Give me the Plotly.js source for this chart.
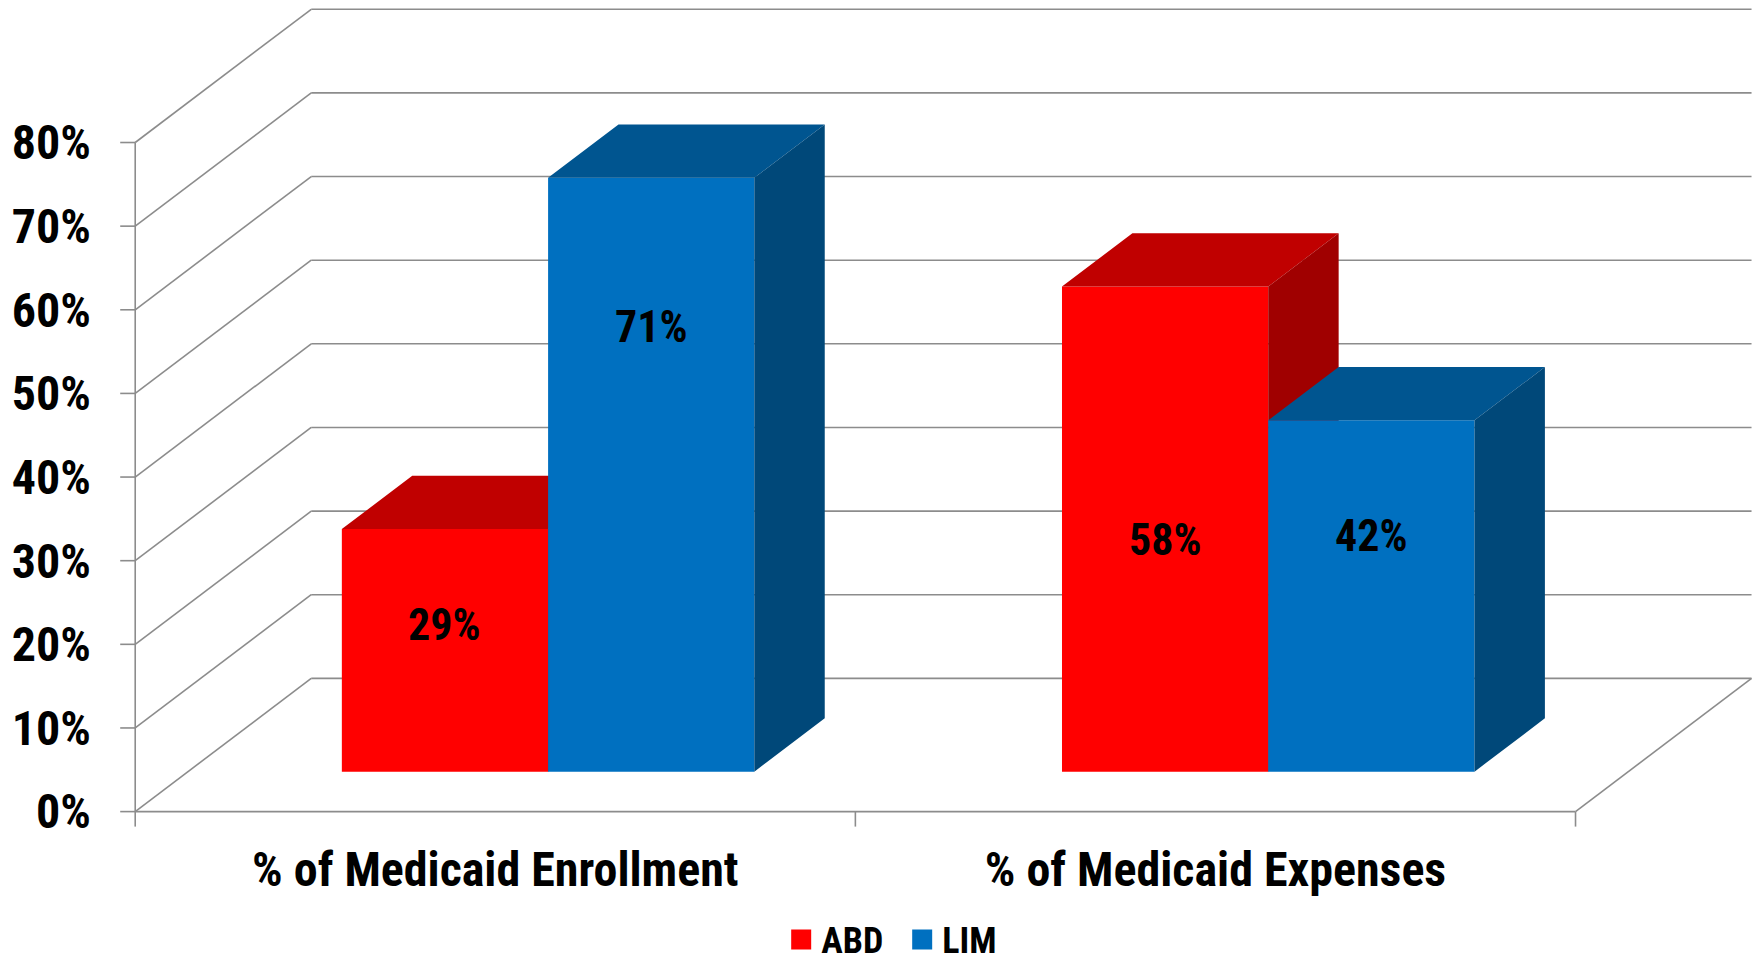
<!DOCTYPE html>
<html>
<head>
<meta charset="utf-8">
<script src="https://cdn.plot.ly/plotly-3.0.1.min.js"></script>
<style>
  html, body { margin: 0; padding: 0; background: #ffffff; overflow: hidden; }
  #chart { width: 1758px; height: 962px; }
</style>
</head>
<body>
<div id="chart"></div>
<script>
// ---------------- data ----------------
const categories = ['% of Medicaid Enrollment', '% of Medicaid Expenses'];
const seriesNames = ['ABD', 'LIM'];
const abdValues = [29, 58];
const limValues = [71, 42];
const yTickVals = [0, 10, 20, 30, 40, 50, 60, 70, 80];
const yTickText = ['0%', '10%', '20%', '30%', '40%', '50%', '60%', '70%', '80%'];

// ---------------- style / 3-D geometry (not data) ----------------
const FONT = 'Liberation Sans Narrow, Arial Narrow, Roboto Condensed, sans-serif';
const colors = {
  ABD: { front: '#FF0000', top: '#C00000', side: '#A00000' },
  LIM: { front: '#0070C0', top: '#005590', side: '#004879' }
};
const WALL_DX = 0.2444;   // depth of the floor, in category units
const WALL_DY = 15.93;    // depth of the floor, in % units
const BAR_D0 = 0.30;      // bar front depth (fraction of the floor depth)
const BAR_D1 = 0.70;      // bar back depth
const BAR_W = 0.2864;     // bar width, category units
const labelFrac = [[0.604, 0.478], [0.749, 0.672]]; // where the value labels sit inside each bar

const series = [abdValues, limValues];
const shiftX = BAR_D0 * WALL_DX;
const base = BAR_D0 * WALL_DY;
const ddx = (BAR_D1 - BAR_D0) * WALL_DX;
const ddy = (BAR_D1 - BAR_D0) * WALL_DY;

function barLeft(si, ci) { return ci + shiftX + (si === 0 ? -BAR_W : 0); }

const traces = [];
const annotations = [];

series.forEach(function (vals, si) {
  const name = seriesNames[si];
  const c = colors[name];
  const xa = si === 0 ? 'x' : 'x2';
  const ya = si === 0 ? 'y' : 'y2';
  // front faces: real bars
  traces.push({
    type: 'bar', name: name, legendgroup: name, showlegend: false,
    x: categories.map(function (_, ci) { return ci; }),
    y: vals, base: base,
    offset: (si === 0 ? -BAR_W : 0) + shiftX, width: BAR_W,
    marker: { color: c.front, line: { width: 0 } },
    xaxis: xa, yaxis: ya,
    hovertemplate: name + ': %{y}%<extra></extra>'
  });
  // top and side faces
  const tx = [], ty = [], sx = [], sy = [];
  vals.forEach(function (v, ci) {
    const l = barLeft(si, ci), r = l + BAR_W, t = base + v;
    tx.push(l, l + ddx, r + ddx, r, l, null);
    ty.push(t, t + ddy, t + ddy, t, t, null);
    sx.push(r, r, r + ddx, r + ddx, r, null);
    sy.push(base, t, t + ddy, base + ddy, base, null);
  });
  traces.push({
    type: 'scatter', mode: 'lines', fill: 'toself', fillcolor: c.top,
    line: { width: 0, color: c.top }, x: tx, y: ty, xaxis: xa, yaxis: ya,
    showlegend: false, hoverinfo: 'skip', legendgroup: name
  });
  traces.push({
    type: 'scatter', mode: 'lines', fill: 'toself', fillcolor: c.side,
    line: { width: 0, color: c.side }, x: sx, y: sy, xaxis: xa, yaxis: ya,
    showlegend: false, hoverinfo: 'skip', legendgroup: name
  });
  // value labels
  vals.forEach(function (v, ci) {
    annotations.push({
      xref: 'x2', yref: 'y2',
      x: barLeft(si, ci) + BAR_W / 2,
      y: base + v * labelFrac[si][ci],
      text: v + '%', showarrow: false,
      font: { family: FONT, size: 44, color: '#000000', weight: 'bold' }
    });
  });
});

// legend entries
seriesNames.forEach(function (name) {
  traces.push({
    type: 'scatter', mode: 'markers', name: name, legendgroup: name,
    x: [null], y: [null],
    marker: { symbol: 'square', size: 16, color: colors[name].front,
              line: { color: colors[name].front, width: 4 } },
    hoverinfo: 'skip'
  });
});

// perspective walls / gridlines
const GRID = '#8c8c8c';
const shapes = [];
function seg(x0, y0, x1, y1) {
  shapes.push({ type: 'line', xref: 'x', yref: 'y', x0: x0, y0: y0, x1: x1, y1: y1,
                layer: 'below', line: { color: GRID, width: 1.6 } });
}
const xL = -0.5, xR = categories.length - 0.5;
yTickVals.forEach(function (v) {
  seg(xL, v, xL + WALL_DX, v + WALL_DY);                     // side wall
  seg(xL + WALL_DX, v + WALL_DY, xR + WALL_DX, v + WALL_DY); // back wall
  seg(xL - 15 / 720, v, xL, v);                              // tick
});
seg(xL, 0, xR, 0);                                           // floor front edge
seg(xR, 0, xR + WALL_DX, WALL_DY);                           // floor right edge
seg(xL, 0, xL, yTickVals[yTickVals.length - 1]);             // value axis
for (let k = 0; k <= categories.length; k++) {
  seg(xL + k, 0, xL + k, -15 / 8.367);                       // category ticks
}

const XR = [-0.56, 1.752];
const YR = [-2.2, 96.8];
const layout = {
  width: 1758, height: 962,
  margin: { l: 92, r: 1.4, t: 2, b: 131.7, autoexpand: false },
  paper_bgcolor: '#ffffff', plot_bgcolor: 'rgba(0,0,0,0)',
  barmode: 'overlay',
  showlegend: true,
  legend: {
    orientation: 'h', x: 0.4866, xanchor: 'center', y: -0.1323, yanchor: 'middle',
    font: { family: FONT, size: 36, color: '#000000', weight: 'bold' },
    itemsizing: 'trace', entrywidth: 76, bgcolor: 'rgba(0,0,0,0)'
  },
  xaxis: {
    range: XR, tickvals: [0, 1], ticktext: categories, showgrid: false, zeroline: false,
    showline: false, ticks: '', ticklabelstandoff: 7, automargin: false, fixedrange: true,
    tickfont: { family: FONT, size: 48, color: '#000000', weight: 'bold' }
  },
  yaxis: {
    range: YR, tickvals: yTickVals, ticktext: yTickText, showgrid: false, zeroline: false,
    showline: false, ticks: '', ticklabelstandoff: 0, automargin: false, fixedrange: true,
    tickfont: { family: FONT, size: 48, color: '#000000', weight: 'bold' }
  },
  xaxis2: { range: XR, overlaying: 'x', visible: false, fixedrange: true },
  yaxis2: { range: YR, overlaying: 'y', visible: false, fixedrange: true },
  shapes: shapes,
  annotations: annotations
};

Plotly.newPlot('chart', traces, layout, { displayModeBar: false, staticPlot: true });
</script>
</body>
</html>
